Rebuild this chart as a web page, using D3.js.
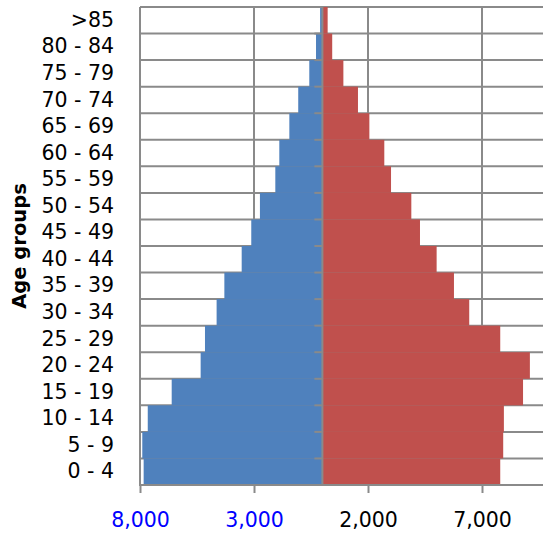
<!DOCTYPE html>
<html>
<head>
<meta charset="utf-8">
<script src="https://cdn.jsdelivr.net/npm/d3@7"></script>
<style>
  html, body { margin: 0; padding: 0; background: #fff; }
  svg { display: block; }
</style>
</head>
<body>
<svg id="chart" width="543" height="535"></svg>
<script>
const categories = ["0 - 4","5 - 9","10 - 14","15 - 19","20 - 24","25 - 29","30 - 34","35 - 39","40 - 44","45 - 49","50 - 54","55 - 59","60 - 64","65 - 69","70 - 74","75 - 79","80 - 84",">85"];
const male   = [7840,7900,7660,6610,5340,5150,4640,4300,3540,3120,2740,2065,1890,1450,1060,575,280,100];
const female = [7800,7930,7960,8800,9100,7800,6440,5770,5010,4280,3900,3010,2715,2060,1560,920,430,230];
const tickValues = [-8000,-3000,2000,7000];
const tickLabels = ["8,000","3,000","2,000","7,000"];
const tickColors = ["#0000FF","#0000FF","#000000","#000000"];
const yTitle = "Age groups";

(function () {
const svg = d3.select("#chart");
const W = 543, H = 535;
const pLeft = 140, pTop = 7, pBottom = 485;
const font = "'DejaVu Sans', sans-serif";
const grid = "#8a8a8a";

const x = d3.scaleLinear().domain([-8000, 7000]).range([pLeft, 482]);
const xMax = x.invert(W + 5);
const y = d3.scaleBand().domain(categories).range([pBottom, pTop]).padding(0);

// horizontal gridlines at category boundaries
const bounds = categories.map(c => y(c)).concat([pBottom]);
svg.append("g").selectAll("line").data(bounds.filter(b => b < pBottom - 0.5)).join("line")
  .attr("x1", pLeft).attr("x2", x(xMax))
  .attr("y1", d => d).attr("y2", d => d)
  .attr("stroke", grid).attr("stroke-width", 2);

// vertical gridlines
svg.append("g").selectAll("line").data(tickValues).join("line")
  .attr("x1", d => x(d)).attr("x2", d => x(d))
  .attr("y1", pTop).attr("y2", pBottom)
  .attr("stroke", grid).attr("stroke-width", 2);

// bars
svg.append("g").selectAll("rect").data(categories).join("rect")
  .attr("x", (d, i) => x(-male[i]))
  .attr("width", (d, i) => x(0) - x(-male[i]))
  .attr("y", d => y(d))
  .attr("height", y.bandwidth())
  .attr("fill", "#4F81BD");
svg.append("g").selectAll("rect").data(categories).join("rect")
  .attr("x", x(0))
  .attr("width", (d, i) => x(female[i]) - x(0))
  .attr("y", d => y(d))
  .attr("height", y.bandwidth())
  .attr("fill", "#C0504D");

// center vertical axis with ticks
const cx = x(0);
svg.append("line").attr("x1", cx).attr("x2", cx).attr("y1", pTop).attr("y2", pBottom)
  .attr("stroke", grid).attr("stroke-width", 2);
svg.append("g").selectAll("line").data(bounds).join("line")
  .attr("x1", cx - 8).attr("x2", cx)
  .attr("y1", d => d).attr("y2", d => d)
  .attr("stroke", grid).attr("stroke-width", 2);

// bottom x axis
const xAxis = d3.axisBottom(x).tickValues(tickValues).tickSize(8).tickFormat((d, i) => tickLabels[i]);
const gx = svg.append("g").attr("transform", `translate(0,${pBottom})`).call(xAxis);
gx.select(".domain").remove();
gx.append("line").attr("x1", pLeft - 1).attr("x2", x(xMax)).attr("y1", 0).attr("y2", 0)
  .attr("stroke", grid).attr("stroke-width", 2);
gx.selectAll(".tick line").attr("stroke", grid).attr("stroke-width", 2);
gx.selectAll(".tick text")
  .attr("dy", null).attr("y", 42)
  .attr("font-family", font).attr("font-size", 20.5)
  .attr("fill", (d, i) => tickColors[i]);

// y category labels
const yAxis = d3.axisLeft(y).tickSize(0).tickPadding(26);
const gy = svg.append("g").attr("transform", `translate(${pLeft},0)`).call(yAxis);
gy.select(".domain").remove();
gy.selectAll(".tick text")
  .attr("font-family", font).attr("font-size", 20.5).attr("fill", "#000");

// y title
svg.append("text")
  .attr("transform", `translate(26,${(pTop + pBottom) / 2}) rotate(-90)`)
  .attr("text-anchor", "middle")
  .attr("font-family", font).attr("font-weight", "bold").attr("font-size", 19.5)
  .attr("fill", "#000")
  .text(yTitle);
})();
</script>
</body>
</html>
